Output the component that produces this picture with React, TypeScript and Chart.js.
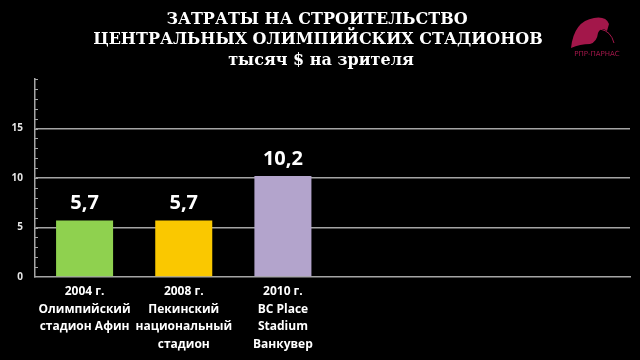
import React, { useEffect, useRef } from "react";
import { Chart, registerables } from "chart.js";

Chart.register(...registerables);

const titleLines = ["ЗАТРАТЫ НА СТРОИТЕЛЬСТВО", "ЦЕНТРАЛЬНЫХ ОЛИМПИЙСКИХ СТАДИОНОВ"];
const subtitleText = "тысяч $ на зрителя";
const logoText = "РПР-ПАРНАС";

const categories: (string[] | string)[] = [
  ["2004 г.", "Олимпийский", "стадион Афин"],
  ["2008 г.", "Пекинский", "национальный", "стадион"],
  ["2010 г.", "BC Place", "Stadium", "Ванкувер"],
  "",
  "",
  "",
];
const values: (number | null)[] = [5.7, 5.7, 10.2, null, null, null];
const barColors = ["#8fd14f", "#fac800", "#b3a4cc", "#000", "#000", "#000"];
const yTickValues = [0, 5, 10, 15];

const GRID = "rgba(165,165,165,1)";

const decorPlugin = {
  id: "decor",
  beforeDraw(chart: any) {
    const ctx = chart.ctx;
    ctx.save();
    ctx.fillStyle = "#000";
    ctx.fillRect(0, 0, chart.width, chart.height);
    ctx.restore();
  },
  afterDraw(chart: any) {
    const ctx = chart.ctx;
    ctx.save();
    // Title
    ctx.fillStyle = "#ffffff";
    ctx.textAlign = "center";
    ctx.textBaseline = "middle";
    ctx.font = "bold 16px 'DejaVu Serif'";
    ctx.fillText(titleLines[0], 317, 20);
    ctx.fillText(titleLines[1], 318, 40);
    ctx.font = "bold 16px 'DejaVu Serif'";
    ctx.fillText(subtitleText, 321, 61);

    // Logo
    ctx.fillStyle = "#a3174a";
    ctx.beginPath();
    ctx.moveTo(571, 48);
    ctx.quadraticCurveTo(574, 21, 594, 18);
    ctx.quadraticCurveTo(606, 16, 609, 24);
    ctx.lineTo(607, 31);
    ctx.quadraticCurveTo(601, 26, 598, 33);
    ctx.quadraticCurveTo(597, 42, 590, 44);
    ctx.quadraticCurveTo(580, 44, 571, 48);
    ctx.closePath();
    ctx.fill();
    ctx.strokeStyle = "#a3174a";
    ctx.lineWidth = 1;
    ctx.beginPath();
    ctx.moveTo(600, 29);
    ctx.quadraticCurveTo(611, 31, 614, 43);
    ctx.stroke();
    ctx.font = "7px 'DejaVu Sans'";
    ctx.fillText(logoText, 597, 54);

    // Minor ticks on y axis
    const y = chart.scales.y;
    const xa = chart.chartArea.left;
    ctx.strokeStyle = GRID;
    ctx.lineWidth = 1;
    for (let v = 1; v <= 20; v++) {
      const py = Math.round(y.getPixelForValue(v)) + 0.5;
      ctx.beginPath();
      ctx.moveTo(xa, py);
      ctx.lineTo(xa + 3, py);
      ctx.stroke();
    }

    // Data labels
    const meta = chart.getDatasetMeta(0);
    ctx.fillStyle = "#ffffff";
    ctx.font = "bold 20px 'Open Sans'";
    ctx.textBaseline = "middle";
    meta.data.forEach((bar: any, i: number) => {
      const v = values[i];
      if (v == null) return;
      ctx.fillText(v.toFixed(1).replace(".", ","), bar.x, bar.y - 17);
    });
    ctx.restore();
  },
};

export default function App() {
  const ref = useRef<HTMLCanvasElement | null>(null);
  useEffect(() => {
    document.body.style.margin = "0";
    document.body.style.background = "#000";
    const chart = new Chart(ref.current as HTMLCanvasElement, {
      type: "bar",
      data: {
        labels: categories as any,
        datasets: [
          {
            data: values,
            backgroundColor: barColors,
            borderWidth: 0,
            barPercentage: 0.575,
            categoryPercentage: 1,
          },
        ],
      },
      options: {
        responsive: false,
        animation: false,
        devicePixelRatio: 1,
        layout: { padding: { top: 79, right: 10, left: 0, bottom: 0 } },
        plugins: { legend: { display: false }, tooltip: { enabled: false } },
        scales: {
          x: {
            grid: { display: false, drawTicks: false },
            border: { display: true, color: GRID, width: 1.5 },
            ticks: {
              color: "#ffffff",
              font: { family: "'Open Sans'", weight: "bold", size: 12, lineHeight: 1.46 },
              padding: 6,
              maxRotation: 0,
              autoSkip: false,
            },
            afterFit(scale: any) {
              scale.height = 83;
            },
          },
          y: {
            min: 0,
            max: 20,
            afterBuildTicks(scale: any) {
              scale.ticks = yTickValues.map((v) => ({ value: v }));
            },
            grid: {
              drawTicks: false,
              color: (c: any) => (c.tick && c.tick.value > 0 ? GRID : "rgba(0,0,0,0)"),
              lineWidth: 1.5,
            },
            border: { display: true, color: GRID, width: 1.5 },
            ticks: {
              color: "#e6e6e6",
              font: { family: "'Open Sans'", weight: "bold", size: 10 },
              padding: 12,
            },
            afterFit(scale: any) {
              scale.width = 35;
            },
          },
        },
      },
      plugins: [decorPlugin],
    });
    return () => chart.destroy();
  }, []);
  return (
    <div style={{ position: "fixed", left: 0, top: 0, width: 640, height: 360, background: "#000" }}>
      <canvas ref={ref} width={640} height={360} />
    </div>
  );
}
